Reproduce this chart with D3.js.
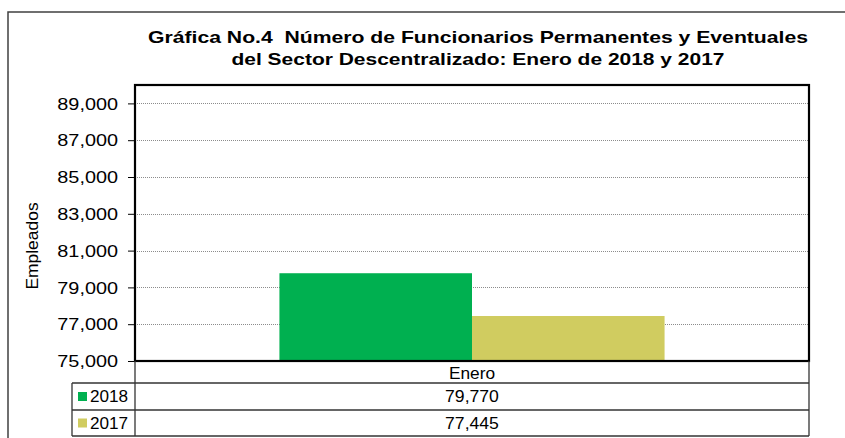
<!DOCTYPE html>
<html lang="es">
<head>
    <meta charset="UTF-8">
    <title>Gráfica No.4</title>
    <script src="https://d3js.org/d3.v7.min.js"></script>
    <style>
        body { margin: 0; background: #fff; }
        svg text { font-family: "Liberation Sans", Arial, sans-serif; fill: #000; }
        .tick-label { font-size: 16px; }
        .grid line { stroke: #8c8c8c; stroke-dasharray: 1,1; }
        .table-line { stroke: #333; stroke-width: 1.3; }
    </style>
</head>
<body>
<div id="chart"></div>
<script>
    // chart data
    const categories = ["Enero"];
    const seriesNames = ["2018", "2017"];
    const seriesValues = [[79770], [77445]];
    const seriesColors = ["#00b050", "#d0cc60"];
    const yTicks = [75000, 77000, 79000, 81000, 83000, 85000, 87000, 89000];
    const yDomain = [75000, 90000];

    const W = 845, H = 438;
    const plot = { left: 135, right: 809, top: 85, bottom: 361 };
    const rowH = [22, 27, 26];   // category row, then one row per series
    const legendLeft = 72;

    // widen text a little, the original was rendered wider than Liberation Sans
    function stretch(sel, k) {
        sel.each(function() {
            const len = this.getComputedTextLength();
            d3.select(this).attr("textLength", len * k).attr("lengthAdjust", "spacingAndGlyphs");
        });
    }

    const svg = d3.select("#chart").append("svg")
        .attr("width", W)
        .attr("height", H);

    // outer chart frame (runs off the right and bottom edges)
    svg.append("path")
        .attr("d", `M8,${H + 5}V12H${W + 5}`)
        .attr("fill", "none")
        .attr("stroke", "#404040")
        .attr("stroke-width", 1.5);

    // title
    const title = svg.append("text")
        .attr("text-anchor", "middle")
        .attr("font-weight", "bold")
        .attr("font-size", "16.5px")
        .attr("xml:space", "preserve")
        .style("white-space", "pre");
    title.append("tspan").attr("x", 478).attr("y", 43)
        .attr("textLength", 660).attr("lengthAdjust", "spacingAndGlyphs")
        .text("Gráfica No.4  Número de Funcionarios Permanentes y Eventuales");
    title.append("tspan").attr("x", 478).attr("y", 64.5)
        .attr("textLength", 493).attr("lengthAdjust", "spacingAndGlyphs")
        .text("del Sector Descentralizado: Enero de 2018 y 2017");

    // scales
    const x = d3.scaleBand()
        .domain(categories)
        .range([plot.left, plot.right])
        .padding(0);

    const xSub = d3.scaleBand()
        .domain(seriesNames)
        .range([0, x.bandwidth()])
        .paddingInner(0)
        .paddingOuter(0.75);

    const y = d3.scaleLinear()
        .domain(yDomain)
        .range([plot.bottom, plot.top]);

    // gridlines
    svg.append("g")
        .attr("class", "grid")
        .selectAll("line")
        .data(yTicks.filter(t => t !== yDomain[0]))
        .join("line")
        .attr("x1", plot.left)
        .attr("x2", plot.right)
        .attr("y1", d => Math.round(y(d)) + 0.5)
        .attr("y2", d => Math.round(y(d)) + 0.5);

    // y axis
    const yAxis = svg.append("g")
        .attr("transform", `translate(${plot.left},0)`)
        .call(d3.axisLeft(y).tickValues(yTicks).tickFormat(d3.format(",")).tickSize(7).tickPadding(10));
    yAxis.select(".domain").remove();
    yAxis.selectAll(".tick line").attr("stroke", "#000");
    yAxis.selectAll(".tick text")
        .attr("class", "tick-label")
        .attr("font-family", null)
        .attr("font-size", null)
        .attr("dy", "0.36em")
        .call(stretch, 1.24);

    // bars
    const groups = svg.append("g")
        .selectAll("g")
        .data(seriesNames)
        .join("g")
        .attr("fill", (d, i) => seriesColors[i]);

    groups.selectAll("rect")
        .data((s, i) => categories.map((c, j) => ({ cat: c, series: s, value: seriesValues[i][j] })))
        .join("rect")
        .attr("x", d => x(d.cat) + xSub(d.series))
        .attr("width", xSub.bandwidth())
        .attr("y", d => y(d.value))
        .attr("height", d => y(yDomain[0]) - y(d.value));

    // plot frame
    svg.append("rect")
        .attr("x", plot.left)
        .attr("y", plot.top)
        .attr("width", plot.right - plot.left)
        .attr("height", plot.bottom - plot.top)
        .attr("fill", "none")
        .attr("stroke", "#000")
        .attr("stroke-width", 2.2);

    // y axis title
    svg.append("text")
        .attr("transform", "translate(38,246) rotate(-90)")
        .attr("text-anchor", "middle")
        .attr("font-size", "16px")
        .text("Empleados")
        .call(stretch, 1.09);

    // data table
    const rowTops = [plot.bottom];
    rowH.forEach(h => rowTops.push(rowTops[rowTops.length - 1] + h));
    const table = svg.append("g");

    // horizontal lines
    table.selectAll("line.h")
        .data(rowTops.slice(1))
        .join("line")
        .attr("class", "table-line")
        .attr("x1", legendLeft)
        .attr("x2", plot.right)
        .attr("y1", d => d)
        .attr("y2", d => d);

    // vertical lines
    const vLines = [
        { xv: legendLeft, y1: rowTops[1], y2: rowTops[rowTops.length - 1] },
        { xv: plot.left, y1: plot.bottom, y2: rowTops[rowTops.length - 1] },
        { xv: plot.right, y1: plot.bottom, y2: rowTops[rowTops.length - 1] }
    ];
    categories.forEach(c => {
        const edge = x(c) + x.bandwidth();
        if (edge < plot.right - 1) vLines.push({ xv: edge, y1: plot.bottom, y2: rowTops[rowTops.length - 1] });
    });
    table.selectAll("line.v")
        .data(vLines)
        .join("line")
        .attr("class", "table-line")
        .attr("x1", d => d.xv)
        .attr("x2", d => d.xv)
        .attr("y1", d => d.y1)
        .attr("y2", d => d.y2);

    // category labels
    table.selectAll("text.cat")
        .data(categories)
        .join("text")
        .attr("class", "tick-label")
        .attr("text-anchor", "middle")
        .attr("x", d => x(d) + x.bandwidth() / 2)
        .attr("y", rowTops[0] + rowH[0] / 2 + 1)
        .attr("dy", "0.36em")
        .text(d => d)
        .call(stretch, 1.08);

    // series rows
    seriesNames.forEach((s, i) => {
        const top = rowTops[i + 1], h = rowH[i + 1];
        table.append("rect")
            .attr("x", legendLeft + 6)
            .attr("y", top + h / 2 - 4.5)
            .attr("width", 9)
            .attr("height", 9)
            .attr("fill", seriesColors[i]);
        table.append("text")
            .attr("class", "tick-label")
            .attr("x", legendLeft + 18)
            .attr("y", top + h / 2)
            .attr("dy", "0.36em")
            .text(s)
            .call(stretch, 1.07);
        table.selectAll(null)
            .data(categories)
            .join("text")
            .attr("class", "tick-label")
            .attr("text-anchor", "middle")
            .attr("x", d => x(d) + x.bandwidth() / 2)
            .attr("y", top + h / 2)
            .attr("dy", "0.36em")
            .text((d, j) => d3.format(",")(seriesValues[i][j]))
            .call(stretch, 1.1);
    });
</script>
</body>
</html>
